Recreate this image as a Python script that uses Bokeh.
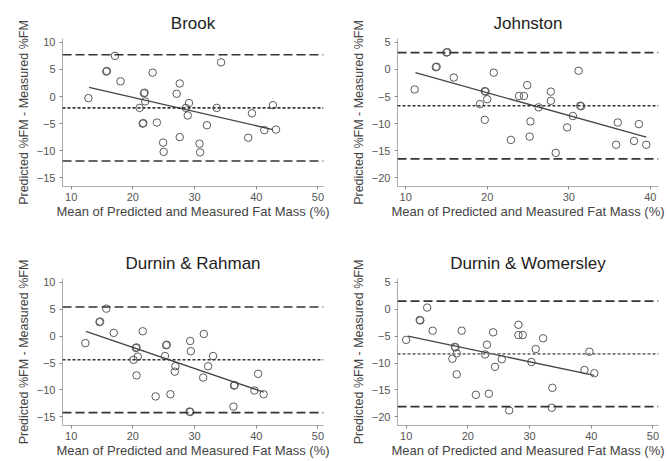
from bokeh.plotting import figure
from bokeh.layouts import column, row
from bokeh.models import Range1d, FixedTicker, Span
from bokeh.embed import file_html
from bokeh.resources import INLINE

# ---------------- data ----------------
titles = ["Brook", "Johnston", "Durnin & Rahman", "Durnin & Womersley"]

brook_x = [12.8, 15.7, 15.8, 17.1, 18.0, 21.1, 21.8, 21.9, 22.0, 21.6, 21.7, 23.2, 23.9, 24.9,
           25.0, 27.1, 27.6, 27.6, 28.6, 28.9, 29.1, 30.8, 30.9, 32.0, 33.6, 34.3, 38.7, 39.3,
           41.3, 42.7, 43.2]
brook_y = [-0.3, 4.6, 4.7, 7.5, 2.8, -2.1, 0.6, 0.7, -0.9, -5.0, -4.9, 4.4, -4.8, -8.5,
           -10.2, 0.5, 2.4, -7.5, -2.1, -3.5, -1.2, -8.7, -10.3, -5.3, -2.1, 6.3, -7.6, -3.1,
           -6.2, -1.6, -6.1]
brook_fit_x = [12.9, 42.7]
brook_fit_y = [1.7, -6.1]
brook_mean = -2.1
brook_loa = [7.7, -11.9]

johnston_x = [11.1, 13.7, 13.8, 15.0, 15.1, 15.9, 19.7, 19.8, 20.0, 19.1, 19.7, 20.8, 22.9,
              23.9, 24.5, 24.9, 25.3, 25.2, 26.3, 27.8, 27.8, 28.4, 29.8, 30.5, 31.2, 31.4,
              31.5, 36.0, 35.8, 38.0, 38.6, 39.5]
johnston_y = [-3.7, 0.4, 0.5, 3.1, 3.2, -1.5, -4.0, -4.1, -5.5, -6.4, -9.3, -0.6, -13.0,
              -4.9, -4.9, -2.9, -9.6, -12.4, -7.0, -4.1, -5.8, -15.4, -10.7, -8.6, -0.25, -6.7,
              -6.8, -9.8, -13.9, -13.2, -10.1, -13.9]
johnston_fit_x = [11.2, 39.5]
johnston_fit_y = [-0.6, -12.5]
johnston_mean = -6.7
johnston_loa = [3.1, -16.5]

rahman_x = [12.3, 14.6, 14.7, 15.7, 16.9, 20.1, 20.5, 20.6, 20.8, 20.6, 21.6, 23.7, 25.4,
            25.5, 25.2, 26.1, 26.9, 26.8, 29.2, 29.3, 29.3, 29.4, 31.5, 31.4, 32.2, 33.0,
            36.4, 36.5, 36.3, 39.7, 40.3, 41.2]
rahman_y = [-1.3, 2.6, 2.7, 5.1, 0.6, -4.4, -2.2, -2.1, -3.8, -7.3, 0.9, -11.2, -1.7,
            -1.6, -3.7, -10.8, -5.6, -6.6, -14.0, -14.1, -0.9, -2.8, 0.4, -7.7, -5.6, -3.7,
            -9.2, -9.1, -13.1, -10.1, -7.0, -10.8]
rahman_fit_x = [12.4, 41.2]
rahman_fit_y = [0.9, -10.4]
rahman_mean = -4.4
rahman_loa = [5.4, -14.2]

womersley_x = [10.0, 12.2, 12.3, 13.4, 14.3, 17.9, 18.0, 18.2, 17.5, 18.2, 19.0, 21.3, 23.1,
               22.8, 23.4, 24.1, 24.4, 25.5, 26.7, 28.2, 28.2, 28.9, 30.3, 31.0, 32.2, 33.7,
               33.6, 39.7, 38.9, 40.5]
womersley_y = [-5.7, -2.0, -2.1, 0.3, -4.0, -7.0, -7.1, -8.2, -9.2, -12.1, -4.0, -15.9, -6.6,
               -8.4, -15.7, -4.3, -10.7, -9.3, -18.8, -2.9, -4.8, -4.8, -9.8, -7.4, -5.4, -14.6,
               -18.3, -7.9, -11.3, -11.9]
womersley_fit_x = [10.3, 40.5]
womersley_fit_y = [-5.0, -12.3]
womersley_mean = -8.3
womersley_loa = [1.5, -18.1]

x_ticks_50 = [10, 20, 30, 40, 50]
x_ticks_40 = [10, 20, 30, 40]
y_ticks_a = [10, 5, 0, -5, -10, -15]
y_ticks_b = [5, 0, -5, -10, -15, -20]

x_label = "Mean of Predicted and Measured Fat Mass (%)"
y_label = "Predicted %FM - Measured %FM"

FONT = "Liberation Sans"


def panel(title, xs, ys, fx, fy, mean, loa, xr, yr, xt, yt,
          w, h, bl, br, bt, bb, mean_color="#333333"):
    p = figure(width=w, height=h, x_range=Range1d(*xr), y_range=Range1d(*yr),
               output_backend="svg", toolbar_location=None, title=title,
               min_border_left=bl, min_border_right=br,
               min_border_top=bt, min_border_bottom=bb)
    p.outline_line_color = None
    p.grid.grid_line_color = None
    p.background_fill_color = "white"
    p.border_fill_color = "white"

    p.title.align = "center"
    p.title.text_font = FONT
    p.title.text_font_size = "17px"
    p.title.text_font_style = "normal"
    p.title.text_color = "#222222"
    p.title.standoff = 12

    for ax in (p.xaxis[0], p.yaxis[0]):
        ax.axis_line_color = "#aaaaaa"
        ax.major_tick_line_color = "#888888"
        ax.major_tick_in = 0
        ax.major_tick_out = 3
        ax.minor_tick_line_color = None
        ax.major_label_text_font = FONT
        ax.major_label_text_font_size = "11px"
        ax.major_label_text_color = "#555555"
        ax.axis_label_text_font = FONT
        ax.axis_label_text_font_style = "normal"
        ax.axis_label_text_color = "#444444"
    p.xaxis.axis_label_text_font_size = "13px"
    p.yaxis.axis_label_text_font_size = "12.5px"
    p.xaxis.ticker = FixedTicker(ticks=xt)
    p.yaxis.ticker = FixedTicker(ticks=yt)
    p.xaxis.axis_label = x_label
    p.yaxis.axis_label = y_label
    p.xaxis.major_label_standoff = 3
    p.xaxis.axis_label_standoff = 0
    p.yaxis.major_label_standoff = 4
    p.yaxis.axis_label_standoff = 3

    for v in loa:
        p.add_layout(Span(location=v, dimension="width", line_color="#333333",
                          line_width=1.6, line_dash="9 4"))
    p.add_layout(Span(location=mean, dimension="width", line_color=mean_color,
                      line_width=1.6, line_dash="3 2"))

    p.scatter(xs, ys, marker="circle", size=7.5, fill_color=None,
              line_color="#5a5a5a", line_width=1)
    p.line(fx, fy, line_color="#444444", line_width=1.3)
    return p


p1 = panel(titles[0], brook_x, brook_y, brook_fit_x, brook_fit_y, brook_mean, brook_loa,
           (8.6, 50.9), (-16.6, 10.7), x_ticks_50, y_ticks_a, 334, 230, 62, 11, 38, 44)
p2 = panel(titles[1], johnston_x, johnston_y, johnston_fit_x, johnston_fit_y, johnston_mean,
           johnston_loa, (9.0, 41.0), (-21.6, 5.7), x_ticks_40, y_ticks_b, 332, 230, 63, 8, 38, 44)
p3 = panel(titles[2], rahman_x, rahman_y, rahman_fit_x, rahman_fit_y, rahman_mean, rahman_loa,
           (8.6, 50.9), (-16.6, 10.7), x_ticks_50, y_ticks_a, 334, 230, 62, 11, 48, 35)
p4 = panel(titles[3], womersley_x, womersley_y, womersley_fit_x, womersley_fit_y,
           womersley_mean, womersley_loa, (8.6, 50.9), (-21.6, 5.7), x_ticks_50, y_ticks_b,
           332, 230, 63, 8, 48, 35, mean_color="#777777")

layout = column(row(p1, p2), row(p3, p4))
open("out.html", "w").write(file_html(layout, INLINE))
